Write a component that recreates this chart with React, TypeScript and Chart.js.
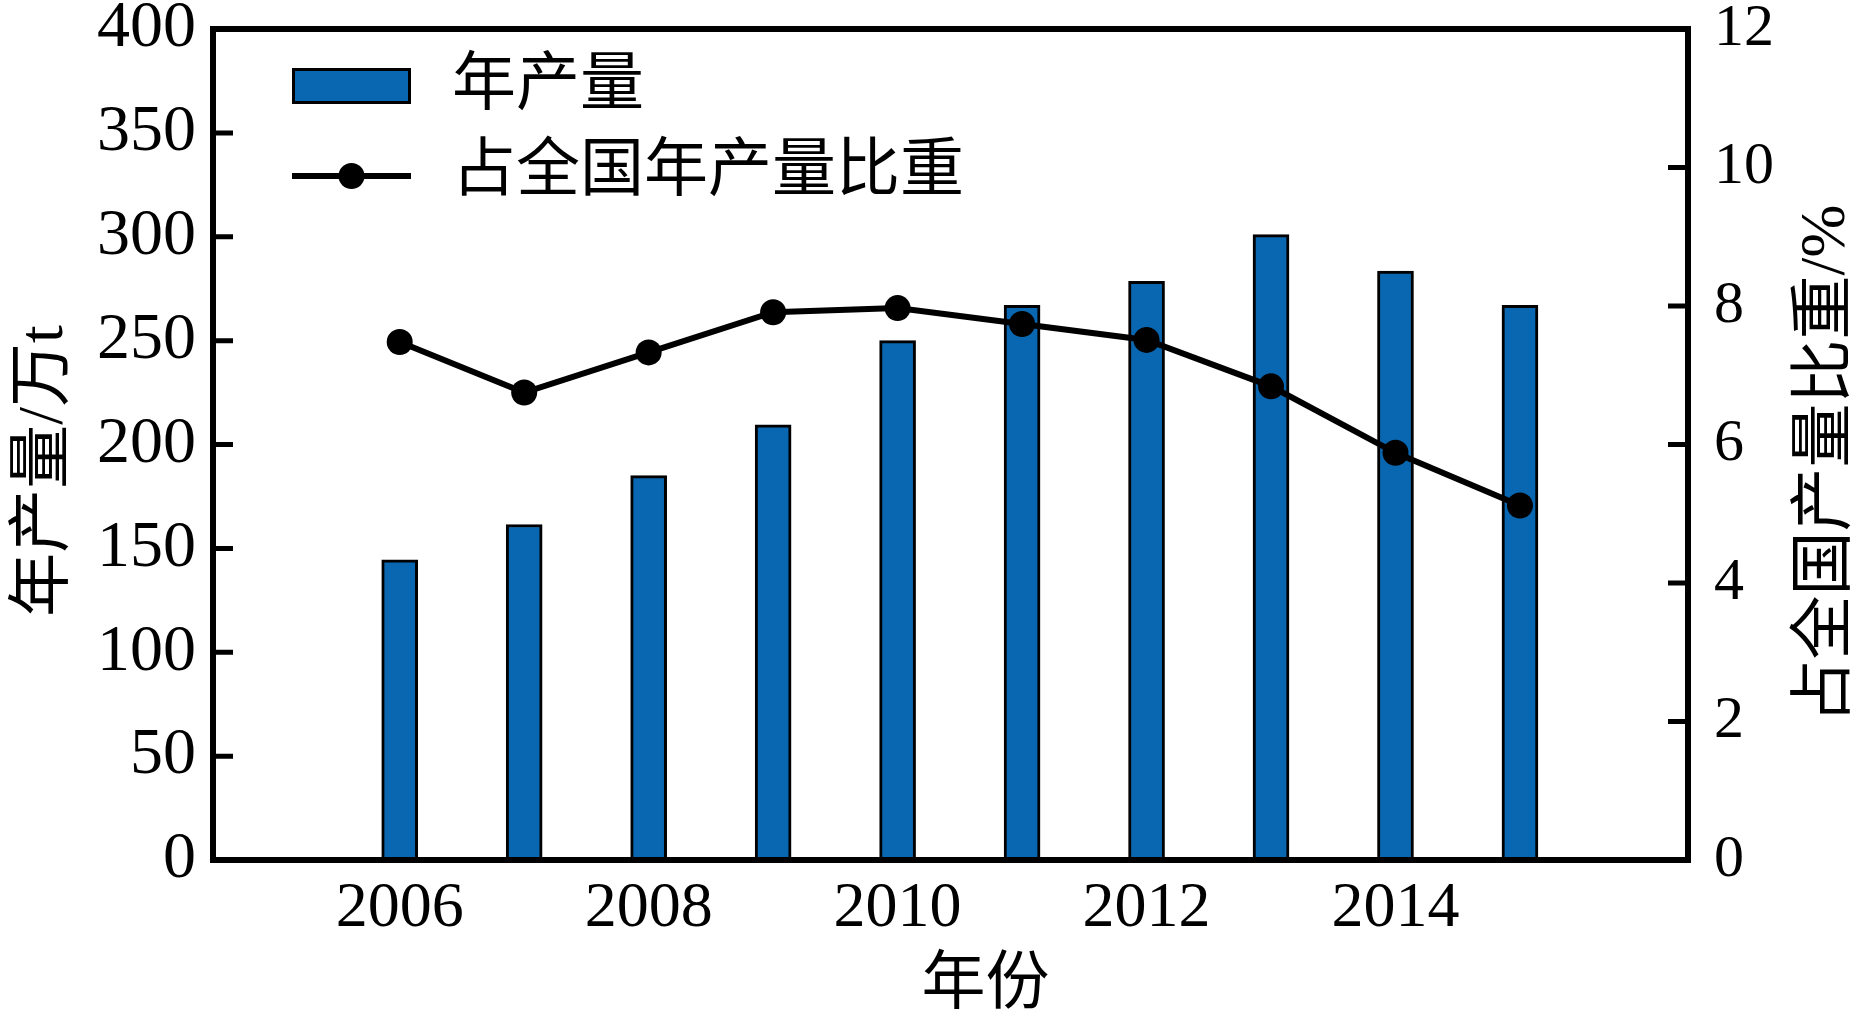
import React, { useEffect, useRef } from "react";
import { Chart, registerables } from "chart.js";

Chart.register(...registerables);

// ---- data ----
const years = [2006, 2007, 2008, 2009, 2010, 2011, 2012, 2013, 2014, 2015];
const production = [144.5, 161.5, 185, 209.5, 250, 267, 278.5, 301, 283.5, 267];
const share = [7.48, 6.75, 7.33, 7.91, 7.97, 7.74, 7.51, 6.84, 5.88, 5.12];
const xTickLabels = [2006, 2008, 2010, 2012, 2014];
const seriesNames = ["年产量", "占全国年产量比重"];
const xTitle = "年份";
const leftTitle = "年产量/万t";
const rightTitle = "占全国产量比重/%";

const FONT = '"Liberation Serif", "Times New Roman", "Noto Sans CJK SC", serif';
const BAR_COLOR = "#0867b0";

const decorPlugin = {
  id: "decor",
  afterDatasetsDraw(chart: any) {
    const { ctx, chartArea: a, scales } = chart;
    ctx.save();
    ctx.strokeStyle = "#000";
    ctx.lineWidth = 6;
    ctx.strokeRect(a.left, a.top, a.right - a.left, a.bottom - a.top);
    const tl = 20;
    ctx.lineWidth = 5;
    ctx.beginPath();
    scales.y.ticks.forEach((t: any) => {
      if (t.value <= scales.y.min || t.value >= scales.y.max) return;
      const py = scales.y.getPixelForValue(t.value);
      ctx.moveTo(a.left, py);
      ctx.lineTo(a.left + tl, py);
    });
    scales.y1.ticks.forEach((t: any) => {
      if (t.value <= scales.y1.min || t.value >= scales.y1.max) return;
      const py = scales.y1.getPixelForValue(t.value);
      ctx.moveTo(a.right, py);
      ctx.lineTo(a.right - tl, py);
    });
    ctx.stroke();
    ctx.restore();
  },
  afterDraw(chart: any) {
    const { ctx, chartArea: a } = chart;
    const ds = chart.data.datasets;
    ctx.save();
    ctx.fillStyle = "#000";
    ctx.font = `64px ${FONT}`;
    ctx.textBaseline = "middle";
    ctx.textAlign = "left";

    // legend: bars
    const bx = a.left + 79;
    const by = a.top + 39;
    ctx.fillStyle = ds[0].backgroundColor;
    ctx.fillRect(bx, by, 119, 36);
    ctx.strokeStyle = "#000";
    ctx.lineWidth = 3;
    ctx.strokeRect(bx + 1.5, by + 1.5, 116, 33);
    ctx.fillStyle = "#000";
    ctx.fillText(ds[0].label, a.left + 239, a.top + 58);

    // legend: line
    const ly = a.top + 147;
    ctx.beginPath();
    ctx.lineWidth = 6;
    ctx.moveTo(bx, ly);
    ctx.lineTo(bx + 119, ly);
    ctx.stroke();
    ctx.beginPath();
    ctx.arc(bx + 59.5, ly, 13, 0, Math.PI * 2);
    ctx.fill();
    ctx.fillText(ds[1].label, a.left + 239, a.top + 144);

    // axis titles
    ctx.textAlign = "center";
    ctx.fillText(xTitle, (a.left + a.right) / 2 + 35, a.bottom + 126);

    ctx.save();
    ctx.translate(45, 471);
    ctx.rotate(-Math.PI / 2);
    ctx.fillText(leftTitle, 0, 0);
    ctx.restore();

    ctx.save();
    ctx.translate(1827, 464);
    ctx.rotate(-Math.PI / 2);
    ctx.fillText(rightTitle, 0, 0);
    ctx.restore();

    ctx.restore();
  },
};

const zeroPad = (scale: any) => {
  scale.paddingTop = 0;
  scale.paddingBottom = 0;
};

export default function App() {
  const canvasRef = useRef<HTMLCanvasElement | null>(null);

  useEffect(() => {
    const canvas = canvasRef.current;
    if (!canvas) return;
    const chart = new Chart(canvas, {
      type: "bar",
      data: {
        datasets: [
          {
            type: "bar",
            label: seriesNames[0],
            data: years.map((x, i) => ({ x, y: production[i] })),
            backgroundColor: BAR_COLOR,
            borderColor: "#000",
            borderWidth: 3,
            barThickness: 36,
            yAxisID: "y",
            order: 2,
          } as any,
          {
            type: "line",
            label: seriesNames[1],
            data: years.map((x, i) => ({ x, y: share[i] })),
            borderColor: "#000",
            backgroundColor: "#000",
            borderWidth: 6,
            pointRadius: 13,
            pointBackgroundColor: "#000",
            pointBorderWidth: 0,
            tension: 0,
            yAxisID: "y1",
            order: 1,
          } as any,
        ],
      },
      options: {
        animation: false,
        responsive: false,
        maintainAspectRatio: false,
        layout: { padding: { top: 29, left: 0, right: 0, bottom: 0 } },
        plugins: {
          legend: { display: false },
          tooltip: { enabled: false },
        },
        scales: {
          x: {
            type: "linear",
            position: "bottom",
            offset: false,
            min: 2004.5,
            max: 2016.35,
            grid: { display: false, drawTicks: false, offset: false },
            border: { display: false },
            afterBuildTicks: (scale: any) => {
              scale.ticks = xTickLabels.map((v) => ({ value: v }));
            },
            afterFit: (scale: any) => {
              scale.height = 156;
            },
            ticks: {
              font: { family: FONT, size: 64, lineHeight: 0.8 },
              color: "#000",
              padding: 24,
              maxRotation: 0,
              autoSkip: false,
              callback: (v: any) => String(v),
            },
          },
          y: {
            type: "linear",
            position: "left",
            min: 0,
            max: 400,
            grid: { display: false, drawTicks: false },
            border: { display: false },
            afterFit: (scale: any) => {
              scale.width = 213;
              zeroPad(scale);
            },
            ticks: { stepSize: 50, font: { family: FONT, size: 66, lineHeight: 0.8 }, color: "#000", padding: 17 },
          },
          y1: {
            type: "linear",
            position: "right",
            min: 0,
            max: 12,
            grid: { display: false, drawTicks: false },
            border: { display: false },
            afterFit: (scale: any) => {
              scale.width = 178;
              zeroPad(scale);
            },
            ticks: { stepSize: 2, font: { family: FONT, size: 60, lineHeight: 0.8 }, color: "#000", padding: 26 },
          },
        },
      } as any,
      plugins: [decorPlugin],
    });
    return () => chart.destroy();
  }, []);

  return (
    <div style={{ position: "absolute", left: 0, top: 0, width: 1866, height: 1016, background: "#fff" }}>
      <canvas ref={canvasRef} width={1866} height={1016} style={{ width: 1866, height: 1016 }} />
    </div>
  );
}
